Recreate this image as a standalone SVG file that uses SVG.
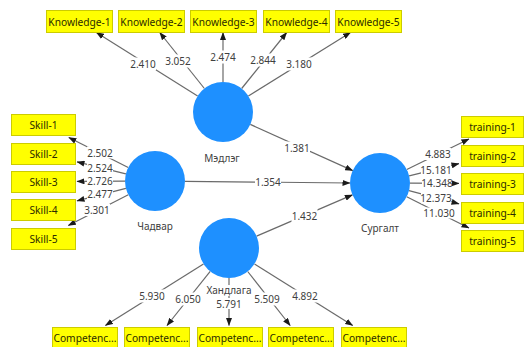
<svg xmlns="http://www.w3.org/2000/svg" width="525" height="347" viewBox="0 0 525 347">
<defs>
<marker id="ah" markerWidth="8" markerHeight="6" refX="7.5" refY="3" orient="auto" markerUnits="userSpaceOnUse">
<path d="M0,0 L8,3 L0,6 z" fill="#1a1a1a"/>
</marker>
<style>
.box{fill:#ffff00;stroke:#cccc00;stroke-width:1}
.bt{font-family:"Noto Sans","Open Sans",sans-serif;font-size:10.2px;fill:#2b2b00;text-anchor:middle;dominant-baseline:central}
.lv{fill:#1e90ff}
.nl{font-family:"Noto Sans","Open Sans",sans-serif;font-size:10px;fill:#404040;text-anchor:middle;dominant-baseline:central}
.e{stroke:#6a6a6a;stroke-width:1.2;fill:none;marker-end:url(#ah)}
.lb{fill:#ffffff}
.et{font-family:"Noto Sans","Open Sans",sans-serif;font-size:10px;fill:#404040;text-anchor:middle;dominant-baseline:central}
</style>
</defs>
<rect width="525" height="347" fill="#ffffff"/>

<g id="connectors">
<line class="e" x1="197.6" y1="95.9" x2="96.4" y2="32.5"/>
<line class="e" x1="204.4" y1="88.5" x2="159.7" y2="32.5"/>
<line class="e" x1="223" y1="82" x2="223" y2="32.5"/>
<line class="e" x1="241.7" y1="88.5" x2="286.7" y2="32.5"/>
<line class="e" x1="248.4" y1="96" x2="350.5" y2="32.5"/>

<line class="e" x1="128.2" y1="167.5" x2="68.8" y2="137.5"/>
<line class="e" x1="125.9" y1="173.8" x2="77" y2="161.9"/>
<line class="e" x1="125" y1="181.1" x2="77" y2="181.4"/>
<line class="e" x1="125.9" y1="188.4" x2="77" y2="200.8"/>
<line class="e" x1="128.3" y1="194.7" x2="68.3" y2="225.5"/>

<line class="e" x1="406.8" y1="169.5" x2="469" y2="139"/>
<line class="e" x1="409.1" y1="175.8" x2="459" y2="163.6"/>
<line class="e" x1="410" y1="183.1" x2="459" y2="183.4"/>
<line class="e" x1="409" y1="190.6" x2="459" y2="203.8"/>
<line class="e" x1="406.7" y1="196.7" x2="469" y2="228"/>

<line class="e" x1="203.5" y1="263.9" x2="105.4" y2="325.5"/>
<line class="e" x1="210.2" y1="271.4" x2="167" y2="325.5"/>
<line class="e" x1="229" y1="278" x2="229" y2="325.5"/>
<line class="e" x1="247.7" y1="271.5" x2="290.2" y2="325.5"/>
<line class="e" x1="254.5" y1="263.9" x2="352.7" y2="325.5"/>

<line class="e" x1="250.3" y1="124.4" x2="352.7" y2="170.6"/>
<line class="e" x1="185" y1="181.3" x2="350" y2="183"/>
<line class="e" x1="256.6" y1="236.1" x2="352.4" y2="194.9"/>

<g id="edge-labels">
<rect class="lb" x="130" y="57.5" width="26" height="13"/><text class="et" x="143" y="64">2.410</text>
<rect class="lb" x="165" y="54.5" width="26" height="13"/><text class="et" x="178" y="61">3.052</text>
<rect class="lb" x="210" y="50.5" width="26" height="13"/><text class="et" x="223" y="57">2.474</text>
<rect class="lb" x="250" y="53.5" width="26" height="13"/><text class="et" x="263" y="60">2.844</text>
<rect class="lb" x="286" y="57.5" width="26" height="13"/><text class="et" x="299" y="64">3.180</text>

<rect class="lb" x="87" y="146.5" width="26" height="12"/><text class="et" x="100" y="152.5">2.502</text>
<rect class="lb" x="87" y="162" width="26" height="12"/><text class="et" x="100" y="168">2.524</text>
<rect class="lb" x="87" y="175" width="26" height="12"/><text class="et" x="100" y="181">2.726</text>
<rect class="lb" x="87" y="188" width="26" height="12"/><text class="et" x="100" y="194">2.477</text>
<rect class="lb" x="84" y="204" width="26" height="12"/><text class="et" x="97" y="210">3.301</text>

<rect class="lb" x="425" y="148" width="26" height="12"/><text class="et" x="438" y="154">4.883</text>
<rect class="lb" x="421" y="164" width="30" height="11"/><text class="et" x="436" y="169.5">15.181</text>
<rect class="lb" x="422" y="177" width="30" height="11"/><text class="et" x="437" y="182.5">14.348</text>
<rect class="lb" x="421" y="192.5" width="30" height="11"/><text class="et" x="436" y="198">12.373</text>
<rect class="lb" x="424" y="207.5" width="30" height="11"/><text class="et" x="439" y="213">11.030</text>

<rect class="lb" x="139" y="289.5" width="26" height="13"/><text class="et" x="152" y="296">5.930</text>
<rect class="lb" x="175" y="292.5" width="26" height="13"/><text class="et" x="188" y="299">6.050</text>
<rect class="lb" x="216" y="298" width="26" height="11"/><text class="et" x="229" y="303.5">5.791</text>
<rect class="lb" x="254" y="292.5" width="26" height="13"/><text class="et" x="267" y="299">5.509</text>
<rect class="lb" x="292" y="289.5" width="26" height="13"/><text class="et" x="305" y="296">4.892</text>

<rect class="lb" x="284" y="141.5" width="26" height="13"/><text class="et" x="297" y="148">1.381</text>
<rect class="lb" x="255" y="175.5" width="26" height="13"/><text class="et" x="268" y="182">1.354</text>
<rect class="lb" x="291.5" y="209" width="26" height="13"/><text class="et" x="304.5" y="215.5">1.432</text>
</g>
</g>

<g id="knowledge-1"><rect class="box" x="46.5" y="10.5" width="66" height="22"/><text class="bt" x="79.5" y="21.5">Knowledge-1</text></g>
<g id="knowledge-2"><rect class="box" x="118.5" y="10.5" width="66" height="22"/><text class="bt" x="151.5" y="21.5">Knowledge-2</text></g>
<g id="knowledge-3"><rect class="box" x="190.5" y="10.5" width="66" height="22"/><text class="bt" x="223.5" y="21.5">Knowledge-3</text></g>
<g id="knowledge-4"><rect class="box" x="263.5" y="10.5" width="66" height="22"/><text class="bt" x="296.5" y="21.5">Knowledge-4</text></g>
<g id="knowledge-5"><rect class="box" x="335.5" y="10.5" width="66" height="22"/><text class="bt" x="368.5" y="21.5">Knowledge-5</text></g>

<g id="skill-1"><rect class="box" x="11.5" y="114.5" width="64" height="21"/><text class="bt" x="43.5" y="125">Skill-1</text></g>
<g id="skill-2"><rect class="box" x="11.5" y="143.5" width="64" height="21"/><text class="bt" x="43.5" y="154">Skill-2</text></g>
<g id="skill-3"><rect class="box" x="11.5" y="171.5" width="64" height="21"/><text class="bt" x="43.5" y="182">Skill-3</text></g>
<g id="skill-4"><rect class="box" x="11.5" y="199.5" width="64" height="21"/><text class="bt" x="43.5" y="210">Skill-4</text></g>
<g id="skill-5"><rect class="box" x="11.5" y="228.5" width="64" height="21"/><text class="bt" x="43.5" y="239">Skill-5</text></g>

<g id="training-1"><rect class="box" x="461.5" y="116.5" width="62" height="21"/><text class="bt" x="492.5" y="127">training-1</text></g>
<g id="training-2"><rect class="box" x="461.5" y="145.5" width="62" height="21"/><text class="bt" x="492.5" y="156">training-2</text></g>
<g id="training-3"><rect class="box" x="461.5" y="173.5" width="62" height="21"/><text class="bt" x="492.5" y="184">training-3</text></g>
<g id="training-4"><rect class="box" x="461.5" y="202.5" width="62" height="21"/><text class="bt" x="492.5" y="213">training-4</text></g>
<g id="training-5"><rect class="box" x="461.5" y="230.5" width="62" height="21"/><text class="bt" x="492.5" y="241">training-5</text></g>

<g id="competence-1"><rect class="box" x="52.5" y="327.5" width="65" height="22"/><text class="bt" x="85" y="338">Competenc...</text></g>
<g id="competence-2"><rect class="box" x="124.5" y="327.5" width="65" height="22"/><text class="bt" x="157" y="338">Competenc...</text></g>
<g id="competence-3"><rect class="box" x="197.5" y="327.5" width="65" height="22"/><text class="bt" x="230" y="338">Competenc...</text></g>
<g id="competence-4"><rect class="box" x="268.5" y="327.5" width="65" height="22"/><text class="bt" x="301" y="338">Competenc...</text></g>
<g id="competence-5"><rect class="box" x="341.5" y="327.5" width="65" height="22"/><text class="bt" x="374" y="338">Competenc...</text></g>

<g id="medleg"><circle class="lv" cx="223" cy="112" r="30"/><text class="nl" x="222" y="158">Мэдлэг</text></g>
<g id="chadvar"><circle class="lv" cx="155" cy="181" r="30"/><text class="nl" x="155" y="226">Чадвар</text></g>
<g id="surgalt"><circle class="lv" cx="380" cy="183" r="30"/><text class="nl" x="380" y="228">Сургалт</text></g>
<g id="handlaga"><circle class="lv" cx="229" cy="248" r="30"/><rect class="lb" x="207" y="285" width="44" height="11"/><text class="nl" x="229" y="290">Хандлага</text></g>
</svg>
